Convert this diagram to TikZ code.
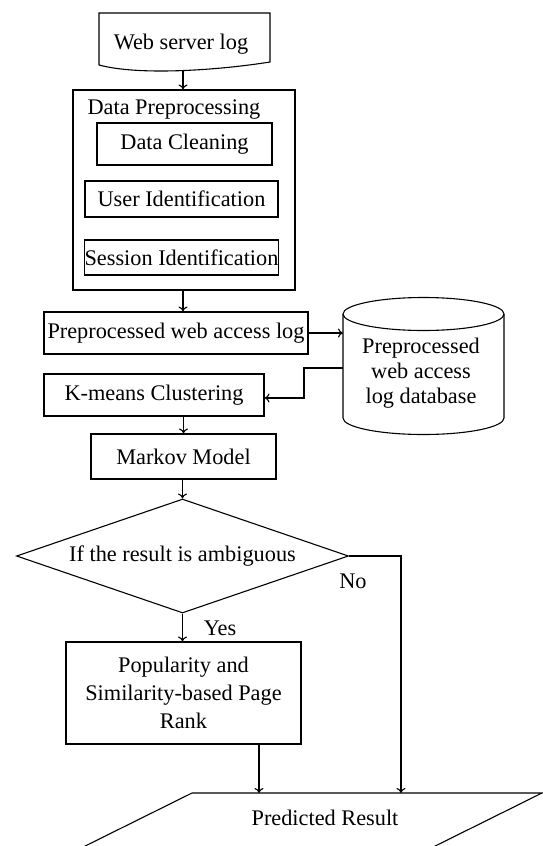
\documentclass[tikz,border=0pt]{standalone}
\usepackage{fontspec}
\setmainfont{Liberation Serif}
\usetikzlibrary{calc, arrows.meta, shapes.geometric}

\begin{document}
\begin{tikzpicture}[x=1pt, y=-1pt, line width=1.1pt,
    font=\fontsize{22.3}{25}\selectfont,
    >={To[length=5pt,width=9pt]}]
    \tikzset{
      box/.style={
        draw,
        rectangle,
        inner sep=0pt,
        align=center,
      },
      lbl/.style={
        inner sep=0pt,
        align=center,
      },
      flow/.style={
        ->,
      }
    }
    \tikzstyle{choice} = [draw, diamond, aspect=2.9, inner sep=0pt]

    \pgfmathsetmacro{\R}{80.5}
    \pgfmathsetmacro{\E}{16.5}

    \useasboundingbox (0,0) rectangle (543,846);
    \clip (0,0) rectangle (543,846);

    % input document
    \node[lbl] (weblog) at (181,44) {Web server log};
    \draw (99,65) -- (99,13) -- (270,13) -- (270,62)
        .. controls (220,70) and (140,76) .. (99,65);
    \coordinate (weblogend) at (183,71);

    % preprocessing block
    \node[box, minimum width=222, minimum height=200] (datapre) at (184,190) {};
    \node[lbl, anchor=west] (prelbl) at (87,110) {Data Preprocessing};
    \node[box, minimum width=175, minimum height=42] (clean)  at (184.5,144) {Data Cleaning};
    \node[box, minimum width=193, minimum height=36] (userid) at (181.5,199) {User Identification};
    \node[box, minimum width=193, minimum height=35] (sessid) at (181.5,257.5) {Session Identification};

    \node[box, minimum width=264, minimum height=42] (prelog) at (176,333) {Preprocessed web access log};
    \node[box, minimum width=220, minimum height=42] (kmeans) at (154,395) {K-means Clustering};
    \node[box, minimum width=185, minimum height=45] (markov) at (183.5,456.5) {Markov Model};
    \node[choice, minimum width=332, minimum height=114] (dec) at (182.5,556) {If the result is ambiguous};
    \node[box, minimum width=235, minimum height=102,
          font=\fontsize{22.3}{28}\selectfont] (popbox) at (183.5,693)
        {Popularity and\\Similarity-based Page\\Rank};
    \node[lbl] (yes) at (220,628) {Yes};
    \node[lbl] (no)  at (353,581) {No};

    % database
    \node[lbl] (db) at (421,373) {Preprocessed\\web access\\log database};
    \coordinate (dbtop) at ($(db)+(2.5,-59)$);
    \coordinate (dbbot) at ($(db)+(2.5,45)$);
    \coordinate (dbin)  at ($(db)+(-78,-40)$);
    \coordinate (dbout) at ($(db)+(-78,-5)$);
    \draw ($(dbtop)+(-\R,0)$) -- ($(dbbot)+(-\R,0)$)
        arc[start angle=180, end angle=360, x radius=\R pt, y radius=\E pt]
        -- ($(dbtop)+(\R,0)$);
    \draw (dbtop) ellipse [x radius=\R pt, y radius=\E pt];

    % output
    \node[lbl] (result) at (325,818) {Predicted Result};
    \coordinate (resnw) at (192,793);
    \coordinate (resne) at (542,793);
    \draw (resnw) -- (resne) -- ++(-135,67) -- ($(resnw)+(-135,67)$) -- cycle;

    \coordinate (popout) at ($(popbox.south)+(75.5,0)$);
    \coordinate (noend)  at (401,793);

    \path[flow]
        (weblogend)                 edge (weblogend |- datapre.north)
        (datapre.south -| weblogend) edge (prelog.north -| weblogend)
        (prelog.east |- dbin)       edge (dbin)
        (kmeans.south -| markov.north) edge (markov.north)
        (markov.south -| dec.north) edge (dec.north)
        (dec.south)                 edge (dec.south |- popbox.north)
        (popout)                    edge (popout |- resnw);

    \draw[flow] (dbout) -- ++(-39,0) |- ([yshift=-3pt]kmeans.east);
    \draw[flow] (dec.east) -| (noend);
\end{tikzpicture}
\end{document}
